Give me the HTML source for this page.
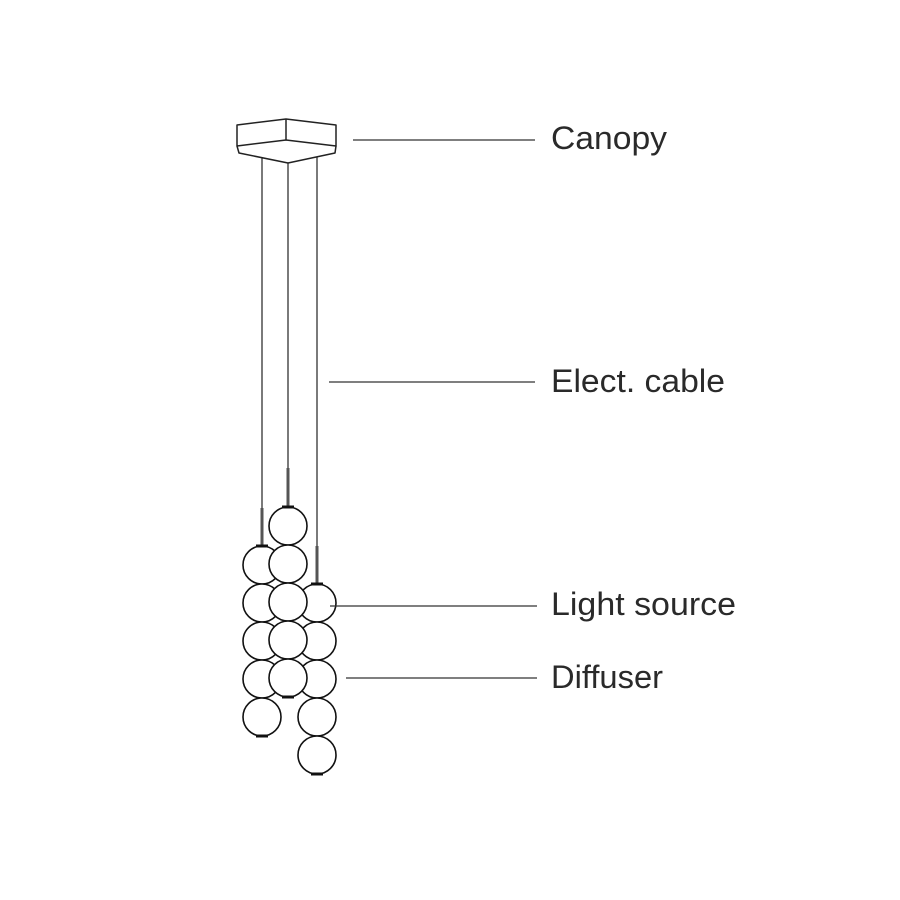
<!DOCTYPE html>
<html><head><style>body{margin:0;background:#fff}svg{display:block}</style></head>
<body>
<svg width="900" height="900" viewBox="0 0 900 900" xmlns="http://www.w3.org/2000/svg">
<rect width="900" height="900" fill="#fff"/>
<g fill="none" stroke="#222" stroke-width="1.5" stroke-linejoin="round">
<polygon points="237,125 286,119 336,125 336,146 286,140 237,146"/>
<polyline points="286,119 286,140"/>
<polyline points="237,146 239,153 288,163 335,153 336,146"/>
</g>
<g stroke="#222" stroke-width="1.2">
<line x1="262" y1="157" x2="262" y2="508"/>
<line x1="288" y1="163" x2="288" y2="468"/>
<line x1="317" y1="157" x2="317" y2="546"/>
</g>
<g stroke="#555" stroke-width="3">
<line x1="262" y1="508" x2="262" y2="545"/>
<line x1="288" y1="468" x2="288" y2="506"/>
<line x1="317" y1="546" x2="317" y2="583"/>
</g>
<g fill="#fff" stroke="#111" stroke-width="1.6">
<circle cx="262" cy="565" r="19"/><circle cx="262" cy="603" r="19"/><circle cx="262" cy="641" r="19"/><circle cx="262" cy="679" r="19"/><circle cx="262" cy="717" r="19"/>
<circle cx="317" cy="603" r="19"/><circle cx="317" cy="641" r="19"/><circle cx="317" cy="679" r="19"/><circle cx="317" cy="717" r="19"/><circle cx="317" cy="755" r="19"/>
<circle cx="288" cy="526" r="19"/><circle cx="288" cy="564" r="19"/><circle cx="288" cy="602" r="19"/><circle cx="288" cy="640" r="19"/><circle cx="288" cy="678" r="19"/>
</g>
<g stroke="#111" stroke-width="3">
<line x1="256" y1="546" x2="268" y2="546"/><line x1="282" y1="507" x2="294" y2="507"/><line x1="311" y1="584" x2="323" y2="584"/>
<line x1="256" y1="736" x2="268" y2="736"/><line x1="282" y1="697" x2="294" y2="697"/><line x1="311" y1="774" x2="323" y2="774"/>
</g>
<g stroke="#333" stroke-width="1.2">
<line x1="353" y1="140" x2="535" y2="140"/>
<line x1="329" y1="382" x2="535" y2="382"/>
<line x1="330" y1="606" x2="537" y2="606"/>
<line x1="346" y1="678" x2="537" y2="678"/>
</g>
<g font-family="Liberation Sans, sans-serif" font-size="32" fill="#2a2a2a">
<text x="551" y="149" textLength="116" lengthAdjust="spacingAndGlyphs">Canopy</text>
<text x="551" y="392" textLength="174" lengthAdjust="spacingAndGlyphs">Elect. cable</text>
<text x="551" y="615" textLength="185" lengthAdjust="spacingAndGlyphs">Light source</text>
<text x="551" y="688" textLength="112" lengthAdjust="spacingAndGlyphs">Diffuser</text>
</g>
</svg>
</body></html>
